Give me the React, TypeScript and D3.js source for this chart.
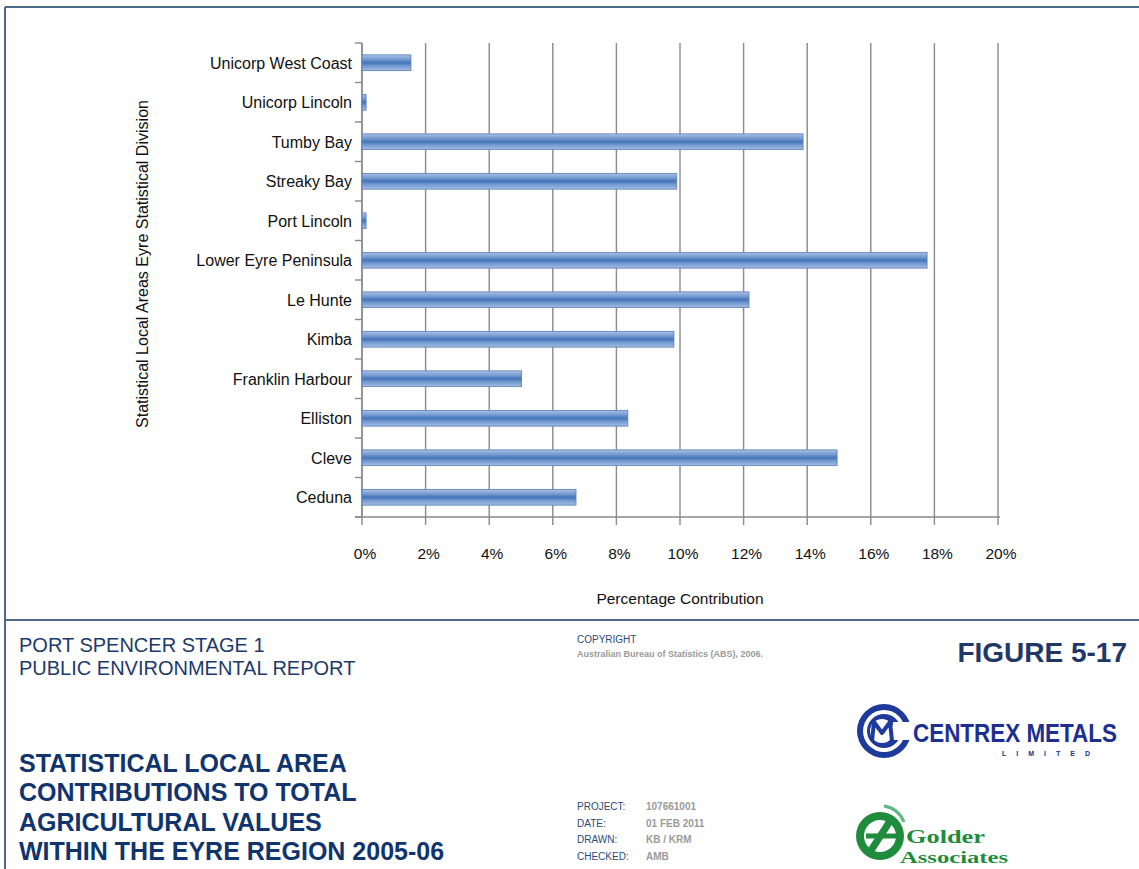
import React from "react";
import * as d3 from "d3";

const categories = [
  "Unicorp West Coast",
  "Unicorp Lincoln",
  "Tumby Bay",
  "Streaky Bay",
  "Port Lincoln",
  "Lower Eyre Peninsula",
  "Le Hunte",
  "Kimba",
  "Franklin Harbour",
  "Elliston",
  "Cleve",
  "Ceduna",
];
const values = [1.54, 0.13, 13.87, 9.9, 0.13, 17.77, 12.17, 9.81, 5.02, 8.36, 14.94, 6.73];
const xTicks = [0, 2, 4, 6, 8, 10, 12, 14, 16, 18, 20];
const projectKeys = ["PROJECT:", "DATE:", "DRAWN:", "CHECKED:"];
const projectVals = ["107661001", "01 FEB 2011", "KB / KRM", "AMB"];
const titleLines = [
  "STATISTICAL LOCAL AREA",
  "CONTRIBUTIONS TO TOTAL",
  "AGRICULTURAL VALUES",
  "WITHIN THE EYRE REGION 2005-06",
];

const W = 1139;
const H = 869;
const FONT = "'Liberation Sans', Arial, sans-serif";

export default function App() {
  const x = d3.scaleLinear().domain([0, 20]).range([362, 998]);
  const y = d3
    .scaleBand<string>()
    .domain(categories)
    .range([43, 517])
    .paddingInner(0.6)
    .paddingOuter(0.3);
  const step = y.step();
  const top = 43;
  const bottom = 517;
  const bounds = d3.range(categories.length + 1).map((i) => top + i * step);

  return (
    <svg
      width={W}
      height={H}
      style={{ position: "absolute", left: 0, top: 0, background: "#fff" }}
      fontFamily={FONT}
    >
      <defs>
        <linearGradient id="barGrad" x1="0" y1="0" x2="0" y2="1">
          <stop offset="0" stopColor="#a9c1e3" />
          <stop offset="0.3" stopColor="#7399d0" />
          <stop offset="0.5" stopColor="#4574b8" />
          <stop offset="0.7" stopColor="#7399d0" />
          <stop offset="1" stopColor="#a3bde2" />
        </linearGradient>
      </defs>
      <rect x={0} y={0} width={W} height={H} fill="#fff" />
      {/* frame */}
      <line x1={5} y1={7} x2={W} y2={7} stroke="#4d6a88" strokeWidth={2} />
      <line x1={5} y1={7} x2={5} y2={H} stroke="#4d6a88" strokeWidth={2} />
      <line x1={5} y1={620} x2={W} y2={620} stroke="#4d6a88" strokeWidth={2} />

      {/* gridlines */}
      {xTicks.map((t) => (
        <line
          key={"g" + t}
          x1={x(t)}
          x2={x(t)}
          y1={top}
          y2={bottom + 8}
          stroke="#8a8a8a"
          strokeWidth={1.4}
        />
      ))}
      {/* bottom axis */}
      <line x1={355} x2={1000} y1={bottom} y2={bottom} stroke="#8a8a8a" strokeWidth={1.4} />
      {/* y axis */}
      <line x1={x(0)} x2={x(0)} y1={top} y2={bottom} stroke="#8a8a8a" strokeWidth={1.4} />
      {bounds.map((b, i) => (
        <line key={"yt" + i} x1={355} x2={x(0)} y1={b} y2={b} stroke="#8a8a8a" strokeWidth={1.4} />
      ))}

      {/* bars */}
      {categories.map((c, i) => (
        <rect
          key={c}
          x={x(0)}
          y={y(c)}
          width={x(values[i]) - x(0)}
          height={y.bandwidth()}
          fill="url(#barGrad)"
          stroke="#5a7fb8"
          strokeWidth={0.8}
        />
      ))}

      {/* category labels */}
      {categories.map((c) => (
        <text
          key={"l" + c}
          x={352}
          y={(y(c) as number) + y.bandwidth() / 2 + 6}
          textAnchor="end"
          fontSize={16}
          fill="#111"
        >
          {c}
        </text>
      ))}

      {/* x tick labels */}
      {xTicks.map((t) => (
        <text key={"xl" + t} x={x(t) + 3} y={559} textAnchor="middle" fontSize={15.5} fill="#111">
          {t + "%"}
        </text>
      ))}
      <text x={680} y={604} textAnchor="middle" fontSize={15.5} fill="#111">
        Percentage Contribution
      </text>
      <text
        transform="translate(148,264) rotate(-90)"
        textAnchor="middle"
        fontSize={16}
        fill="#111"
        textLength={328}
        lengthAdjust="spacingAndGlyphs"
      >
        Statistical Local Areas Eyre Statistical Division
      </text>

      {/* footer */}
      <text x={19} y={652} fontSize={20} fill="#1c3a6b">
        PORT SPENCER STAGE 1
      </text>
      <text x={19} y={675} fontSize={20} fill="#1c3a6b">
        PUBLIC ENVIRONMENTAL REPORT
      </text>
      {titleLines.map((l, i) => (
        <text key={l} x={19} y={772 + i * 29.3} fontSize={25} fontWeight="bold" fill="#10356e">
          {l}
        </text>
      ))}

      <text x={577} y={643} fontSize={10} fill="#2b4a7a">
        COPYRIGHT
      </text>
      <text x={577} y={657} fontSize={9} fontWeight="bold" fill="#9a9a9a">
        Australian Bureau of Statistics (ABS), 2006.
      </text>

      <text x={1127} y={662} textAnchor="end" fontSize={28} fontWeight="bold" fill="#1f3867">
        FIGURE 5-17
      </text>

      {projectKeys.map((k, i) => (
        <g key={k}>
          <text x={577} y={810 + i * 16.5} fontSize={10} fill="#2b4a7a">
            {k}
          </text>
          <text x={646} y={810 + i * 16.5} fontSize={10} fontWeight="bold" fill="#9a9a9a">
            {projectVals[i]}
          </text>
        </g>
      ))}

      {/* Centrex logo */}
      <g>
        <circle cx={884} cy={731} r={27} fill="#1e3a9a" />
        <circle cx={884} cy={731} r={21} fill="#fff" />
        <circle cx={884} cy={731} r={17} fill="#1e3a9a" />
        <rect x={893} y={722} width={20} height={18} fill="#fff" />
        <circle cx={882} cy={731} r={12} fill="#fff" />
        <path
          d="M872,741 L874,722 L882,733 L890,722 L892,741"
          fill="none"
          stroke="#1e3a9a"
          strokeWidth={4}
          strokeLinejoin="round"
        />
        <text
          x={913}
          y={742}
          fontSize={25}
          fontWeight="bold"
          fill="#1d2f93"
          textLength={204}
          lengthAdjust="spacingAndGlyphs"
        >
          CENTREX METALS
        </text>
        <text x={1002} y={756} fontSize={7} fontWeight="bold" fill="#1d2f93" letterSpacing={10}>
          LIMITED
        </text>
      </g>

      {/* Golder logo */}
      <g>
        <circle cx={880} cy={836} r={24} fill="#1e8c3c" />
        <circle cx={880} cy={836} r={16} fill="#fff" />
        <path d="M870,852 L892,818" stroke="#1e8c3c" strokeWidth={7} />
        <path d="M866,836 L896,836" stroke="#1e8c3c" strokeWidth={5} />
        <path d="M884,806 q14,2 20,16" stroke="#5fb88a" strokeWidth={3} fill="none" />
        <text
          x={906}
          y={843}
          fontSize={18}
          fontWeight="bold"
          fill="#1e8c3c"
          fontFamily="'Liberation Serif', 'DejaVu Serif', serif"
          textLength={79}
          lengthAdjust="spacingAndGlyphs"
        >
          Golder
        </text>
        <text
          x={900}
          y={863}
          fontSize={17}
          fontWeight="bold"
          fill="#1e8c3c"
          fontFamily="'Liberation Serif', 'DejaVu Serif', serif"
          textLength={108}
          lengthAdjust="spacingAndGlyphs"
        >
          Associates
        </text>
      </g>
    </svg>
  );
}
